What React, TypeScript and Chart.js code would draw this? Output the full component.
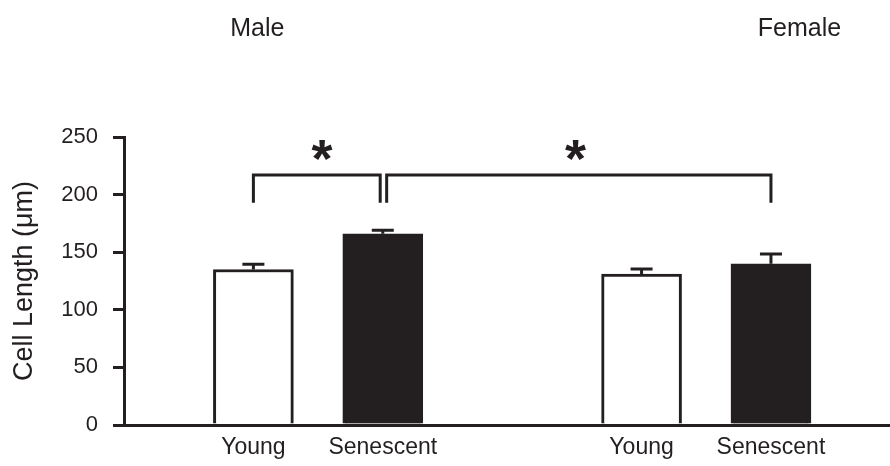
import React, { useEffect, useRef } from "react";
import { Chart, registerables } from "chart.js";

Chart.register(...registerables);

const INK = "#231f20";
const FONT = "'Liberation Sans', Arial, sans-serif";

// Data
const groupTitles = ["Male", "Female"];
const groupTitleX = [1.03, 5.22]; // x-scale positions of the group headings
const categories = ["Young", "Senescent", "Young", "Senescent"];
const xPositions = [1, 2, 4, 5];
const cellLength = [135, 166, 131, 140];
const sem = [4.5, 3, 4.5, 8.5];
const barFill = ["#ffffff", INK, "#ffffff", INK];
const yTicks = [0, 50, 100, 150, 200, 250];

// Significance brackets
const bracketFrom = [1, 2.03];
const bracketTo = [1.98, 5];
const bracketTop = [217, 217];
const bracketLeg = [193, 193];
const starX = [1.53, 3.49];
const starY = [238, 238];

const overlay = {
  id: "overlay",
  afterDatasetsDraw(chart: any) {
    const { ctx } = chart;
    const x = chart.scales.x;
    const y = chart.scales.y;
    ctx.save();
    ctx.strokeStyle = INK;
    ctx.lineWidth = 3;
    ctx.lineCap = "butt";
    const meta = chart.getDatasetMeta(0);
    meta.data.forEach((bar: any, i: number) => {
      const top = y.getPixelForValue(cellLength[i]);
      const tip = y.getPixelForValue(cellLength[i] + sem[i]);
      ctx.beginPath();
      ctx.moveTo(bar.x, top);
      ctx.lineTo(bar.x, tip);
      ctx.moveTo(bar.x - 11, tip);
      ctx.lineTo(bar.x + 11, tip);
      ctx.stroke();
    });
    // asterisks
    ctx.fillStyle = INK;
    ctx.font = `bold 54px ${FONT}`;
    ctx.textAlign = "center";
    ctx.textBaseline = "alphabetic";
    starX.forEach((sx, i) => {
      const cx = x.getPixelForValue(sx);
      const cy = y.getPixelForValue(starY[i]);
      const m = ctx.measureText("*");
      const base = cy + (m.actualBoundingBoxAscent - m.actualBoundingBoxDescent) / 2;
      ctx.fillText("*", cx, base);
    });
    // group titles
    ctx.font = `25px ${FONT}`;
    ctx.textBaseline = "middle";
    groupTitles.forEach((t, i) => {
      ctx.fillText(t, x.getPixelForValue(groupTitleX[i]), 29);
    });
    ctx.restore();
  },
};

export default function App() {
  const ref = useRef<HTMLCanvasElement | null>(null);
  useEffect(() => {
    document.body.style.margin = "0";
    const canvas = ref.current!;
    const bracketSets = bracketFrom.map((f, i) => ({
      type: "line" as const,
      data: [
        { x: f, y: bracketLeg[i] },
        { x: f, y: bracketTop[i] },
        { x: bracketTo[i], y: bracketTop[i] },
        { x: bracketTo[i], y: bracketLeg[i] },
      ],
      borderColor: INK,
      borderWidth: 3,
      pointRadius: 0,
      fill: false,
      tension: 0,
      borderJoinStyle: "miter" as const,
      borderCapStyle: "butt" as const,
    }));
    const chart = new Chart(canvas, {
      type: "bar",
      data: {
        datasets: [
          {
            type: "bar",
            data: xPositions.map((p, i) => ({ x: p, y: cellLength[i] })),
            backgroundColor: barFill,
            borderColor: INK,
            borderWidth: 3,
            barThickness: 80,
          } as any,
          ...bracketSets,
        ],
      },
      options: {
        responsive: false,
        animation: false,
        devicePixelRatio: 1,
        layout: { padding: { top: 137, left: 0, right: 0, bottom: 0 } },
        plugins: { legend: { display: false }, tooltip: { enabled: false }, title: { display: false } },
        scales: {
          x: {
            type: "linear",
            offset: false,
            min: 0,
            max: 5.92,
            afterBuildTicks: (s: any) => {
              s.ticks = xPositions.map((v) => ({ value: v }));
            },
            ticks: {
              callback: (v: any) => {
                const k = xPositions.indexOf(Number(v));
                return k >= 0 ? categories[k] : "";
              },
              color: INK,
              font: { size: 23, family: FONT },
              padding: 9,
              maxRotation: 0,
              autoSkip: false,
            },
            grid: { display: false, drawTicks: false, offset: false },
            border: { display: true, color: INK, width: 3 },
            afterFit: (s: any) => {
              s.height = 41;
            },
          },
          y: {
            min: 0,
            max: 250,
            afterBuildTicks: (s: any) => {
              s.ticks = yTicks.map((v) => ({ value: v }));
            },
            ticks: {
              color: INK,
              font: { size: 22, family: FONT },
              padding: 15,
            },
            grid: {
              drawOnChartArea: false,
              drawTicks: true,
              tickLength: 11,
              color: INK,
              lineWidth: 3,
            },
            border: { display: true, color: INK, width: 3 },
            title: {
              display: true,
              text: "Cell Length (μm)",
              color: INK,
              font: { size: 27, family: FONT },
              padding: { top: 8, bottom: 0 },
            },
            afterFit: (s: any) => {
              s.width = 124;
            },
          },
        },
      },
      plugins: [overlay],
    });
    return () => chart.destroy();
  }, []);
  return (
    <div style={{ width: 890, height: 466, background: "#fff" }}>
      <canvas ref={ref} width={890} height={466} style={{ display: "block" }} />
    </div>
  );
}
